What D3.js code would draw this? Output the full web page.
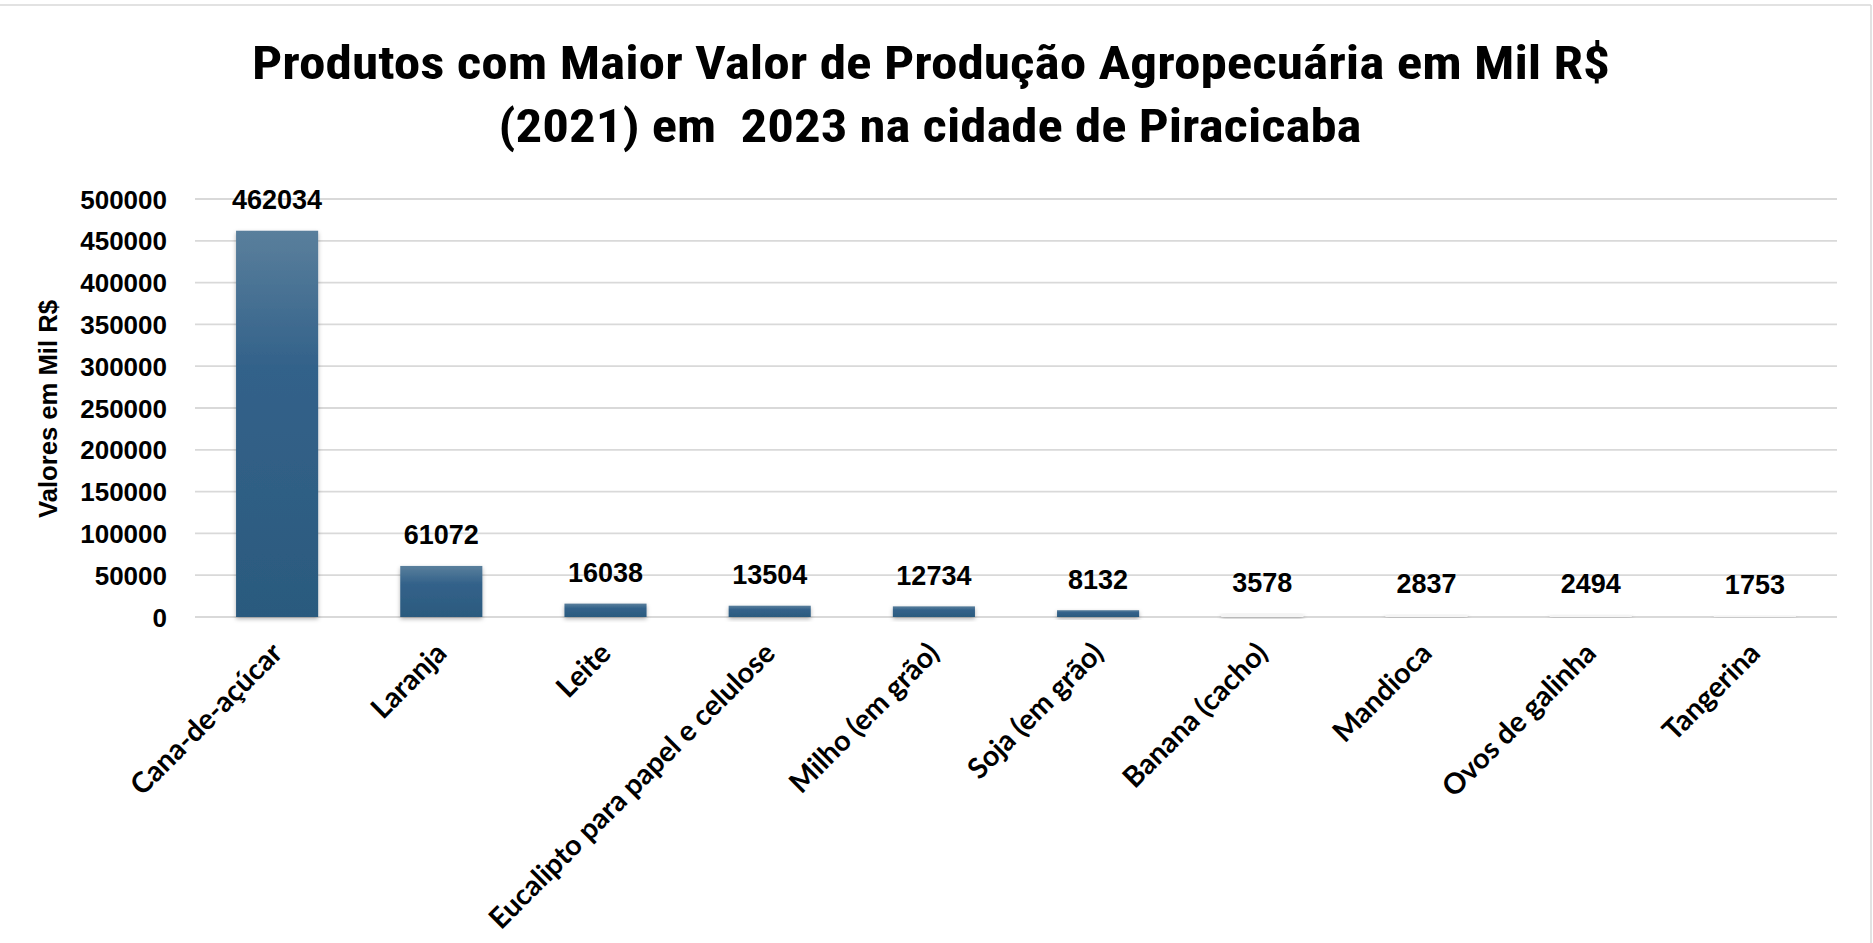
<!DOCTYPE html>
<html>
<head>
<meta charset="utf-8">
<script src="https://cdn.jsdelivr.net/npm/d3@7"></script>
<style>
  html, body { margin: 0; padding: 0; background: #ffffff; }
  svg { display: block; }
</style>
</head>
<body>
<svg id="chart" width="1873" height="943"></svg>
<script>
const categories = ["Cana-de-açúcar", "Laranja", "Leite", "Eucalipto para papel e celulose", "Milho (em grão)", "Soja (em grão)", "Banana (cacho)", "Mandioca", "Ovos de galinha", "Tangerina"];
const values = [462034, 61072, 16038, 13504, 12734, 8132, 3578, 2837, 2494, 1753];
const yTicks = [0, 50000, 100000, 150000, 200000, 250000, 300000, 350000, 400000, 450000, 500000];
const titleLines = ["Produtos com Maior Valor de Produção Agropecuária em Mil R$", "(2021) em  2023 na cidade de Piracicaba"];
const yAxisTitle = "Valores em Mil R$";

const W = 1873, H = 943;
const svg = d3.select("#chart");

// defs: gradient + shadow
const defs = svg.append("defs");
const grad = defs.append("linearGradient").attr("id", "barGrad")
  .attr("x1", 0).attr("y1", 0).attr("x2", 0).attr("y2", 1);
grad.append("stop").attr("offset", "0%").attr("stop-color", "#5a7f9c");
grad.append("stop").attr("offset", "35%").attr("stop-color", "#33628a");
grad.append("stop").attr("offset", "100%").attr("stop-color", "#2b5a7e");
const f = defs.append("filter").attr("id", "shadow").attr("x", "-20%").attr("y", "-20%").attr("width", "140%").attr("height", "160%");
f.append("feDropShadow").attr("dx", 0).attr("dy", 2).attr("stdDeviation", 2)
  .attr("flood-color", "#000").attr("flood-opacity", 0.3);

// border lines
svg.append("line").attr("x1", 0).attr("x2", 1871).attr("y1", 5).attr("y2", 5)
  .attr("stroke", "#d9d9d9").attr("stroke-width", 1.5);
svg.append("line").attr("x1", 1871).attr("x2", 1871).attr("y1", 5).attr("y2", H)
  .attr("stroke", "#d9d9d9").attr("stroke-width", 1.5);

// title
const titleFont = "'Liberation Sans Narrow', 'Roboto Condensed', Roboto, 'Liberation Sans', sans-serif";
const titleSpecs = [{cx: 931, y: 79, len: 1358}, {cx: 930, y: 142, len: 863}];
titleLines.forEach((t, i) => {
  svg.append("text")
    .attr("x", titleSpecs[i].cx).attr("y", titleSpecs[i].y)
    .attr("text-anchor", "middle")
    .attr("textLength", titleSpecs[i].len)
    .attr("lengthAdjust", "spacingAndGlyphs")
    .style("white-space", "pre")
    .attr("font-family", titleFont).attr("font-weight", "bold")
    .attr("font-size", 47).attr("fill", "#000")
    .text(t);
});

// scales
const x = d3.scaleBand().domain(categories).range([195, 1837]).paddingInner(0.5).paddingOuter(0.25);
const y = d3.scaleLinear().domain([0, 500000]).range([617, 199]);

// gridlines
svg.append("g").selectAll("line").data(yTicks).join("line")
  .attr("x1", 195).attr("x2", 1837)
  .attr("y1", d => y(d)).attr("y2", d => y(d))
  .attr("stroke", "#d9d9d9").attr("stroke-width", 1.8);

// y axis tick labels
const yAxis = d3.axisLeft(y).tickValues(yTicks).tickSize(0).tickPadding(0).tickFormat(d3.format("d"));
const yg = svg.append("g").attr("transform", "translate(167,0)").call(yAxis);
yg.select(".domain").remove();
yg.selectAll("text")
  .attr("font-family", "'Liberation Sans', Arial, sans-serif")
  .attr("font-weight", "bold").attr("font-size", 26).attr("fill", "#000")
  .attr("dy", "0.35em");

// y axis title
svg.append("text")
  .attr("transform", "translate(57,409) rotate(-90)")
  .attr("text-anchor", "middle")
  .attr("textLength", 218).attr("lengthAdjust", "spacingAndGlyphs")
  .attr("font-family", "'Liberation Sans', Arial, sans-serif")
  .attr("font-weight", "bold").attr("font-size", 25).attr("fill", "#000")
  .text(yAxisTitle);

// bars
const data = categories.map((c, i) => ({c, v: values[i]}));
svg.append("g").selectAll("rect").data(data).join("rect")
  .attr("x", d => x(d.c))
  .attr("y", d => y(d.v))
  .attr("width", x.bandwidth())
  .attr("height", d => y(0) - y(d.v))
  .attr("fill", d => (y(0) - y(d.v)) < 4 ? "#f4f4f4" : "url(#barGrad)")
  .attr("filter", "url(#shadow)");

// value labels
svg.append("g").selectAll("text").data(data).join("text")
  .attr("x", d => x(d.c) + x.bandwidth() / 2)
  .attr("y", d => y(d.v) - 31)
  .attr("dy", "0.35em")
  .attr("text-anchor", "middle")
  .attr("font-family", "'Liberation Sans', Arial, sans-serif")
  .attr("font-weight", "bold").attr("font-size", 27).attr("fill", "#000")
  .text(d => d.v);

// x axis labels
const xg = svg.append("g");
const xl = xg.selectAll("text").data(categories).join("text")
  .attr("transform", d => `translate(${x(d) + x.bandwidth() / 2 + 7},655) rotate(-45)`)
  .attr("text-anchor", "end")
  .attr("font-family", "Lato, 'Open Sans', sans-serif")
  .attr("font-weight", "bold").attr("font-size", 26).attr("fill", "#000")
  .text(d => d);
// size fit: longest label should be ~390px long
const longest = xl.nodes()[3];
const len = longest.getComputedTextLength();
const fs = 26 * 390 / len;
xl.attr("font-size", fs);
</script>
</body>
</html>
